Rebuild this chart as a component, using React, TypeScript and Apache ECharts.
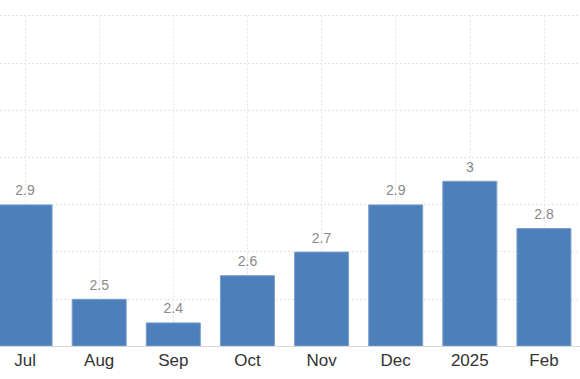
import React, { useEffect, useRef } from "react";
import * as echarts from "echarts";

const categories = ["Jul", "Aug", "Sep", "Oct", "Nov", "Dec", "2025", "Feb"];
const values = [2.9, 2.5, 2.4, 2.6, 2.7, 2.9, 3.0, 2.8];
const yMin = 2.3;
const yMax = 3.7;
const yStep = 0.2;

const CHART_W = 593;
const BAND = CHART_W / categories.length;

export default function App() {
  const ref = useRef<HTMLDivElement>(null);
  useEffect(() => {
    if (!ref.current) return;
    const chart = echarts.init(ref.current, undefined, { renderer: "svg" });
    const gridLine = { color: "#e2e2e2", type: [2, 2], width: 1 };
    chart.setOption({
      animation: false,
      backgroundColor: "#ffffff",
      textStyle: { fontFamily: "'Liberation Sans', Arial, sans-serif" },
      grid: [
        { left: 0, right: 0, top: 15.6, bottom: 33, containLabel: false },
        { left: BAND / 2, right: BAND / 2, top: 15.6, bottom: 33, containLabel: false },
      ],
      xAxis: [
        {
          type: "category",
          gridIndex: 0,
          data: categories,
          boundaryGap: true,
          axisLine: { show: true, lineStyle: { color: "#d8d8d8", width: 1 } },
          axisTick: { show: false },
          splitLine: { show: false },
          axisLabel: {
            color: "#333333",
            fontSize: 17,
            margin: 6,
            fontFamily: "'Liberation Sans', Arial, sans-serif",
          },
          z: 3,
        },
        {
          type: "value",
          gridIndex: 1,
          min: 0,
          max: categories.length - 1,
          interval: 1,
          axisLine: { show: false },
          axisTick: { show: false },
          axisLabel: { show: false },
          splitLine: { show: true, lineStyle: gridLine },
        },
      ],
      yAxis: [
        {
          type: "value",
          gridIndex: 0,
          min: yMin,
          max: yMax,
          interval: yStep,
          axisLine: { show: false },
          axisTick: { show: false },
          axisLabel: { show: false },
          splitLine: { show: true, lineStyle: gridLine },
        },
        {
          type: "value",
          gridIndex: 1,
          min: yMin,
          max: yMax,
          show: false,
          splitLine: { show: false },
        },
      ],
      series: [
        {
          type: "bar",
          xAxisIndex: 0,
          yAxisIndex: 0,
          data: values,
          barWidth: 55,
          z: 2,
          itemStyle: { color: "#4d7fbb", borderColor: "#7b9fcc", borderWidth: 1 },
          label: {
            show: true,
            position: "top",
            distance: 7,
            color: "#8a8a8a",
            fontSize: 14,
            fontFamily: "'Liberation Sans', Arial, sans-serif",
            formatter: (p: any) => String(p.value),
          },
        },
      ],
    });
    return () => chart.dispose();
  }, []);
  return (
    <div
      ref={ref}
      style={{ position: "fixed", left: -12, top: 0, width: CHART_W, height: 379 }}
    />
  );
}
